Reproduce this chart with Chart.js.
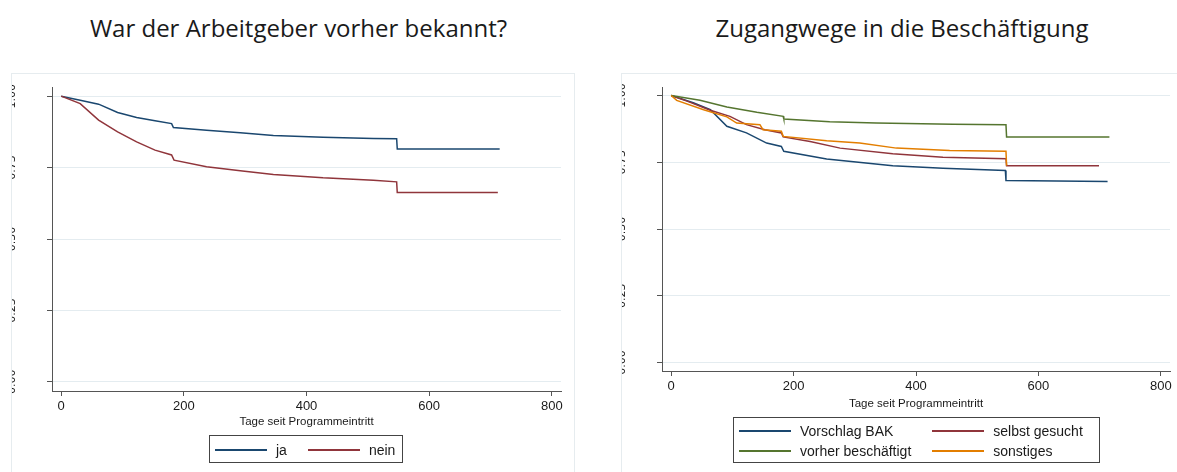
<!DOCTYPE html>
<html>
<head>
<meta charset="utf-8">
<script src="https://cdn.jsdelivr.net/npm/chart.js@4"></script>
<style>
  body { margin: 0; background: #fff; width: 1177px; height: 472px; overflow: hidden; position: relative; }
  .title { position: absolute; top: 11px; font: 24px "Open Sans", sans-serif; color: #1a1a1a; text-align: center; white-space: nowrap; }
  .frame { position: absolute; top: 73px; height: 420px; border: 1px solid #e6ecef; }
  .frame canvas { position: absolute; left: 0; top: 0; }
  .legend { position: absolute; border: 1px solid #444; box-sizing: border-box; display: grid; column-gap: 21px; align-items: center; padding: 3px 5px; font: 14px "Liberation Sans", Arial, sans-serif; color: #1a1a1a; }
  .legend .item { display: flex; align-items: center; height: 20px; white-space: nowrap; }
  .legend .swatch { width: 52px; height: 1.5px; margin-right: 9px; }
</style>
</head>
<body>
<div class="title" style="left:0;width:597px;">War der Arbeitgeber vorher bekannt?</div>
<div class="title" style="left:602px;width:600px;">Zugangwege in die Beschäftigung</div>

<div class="frame" style="left:11px;width:562px;"><canvas id="leftChart" width="561" height="398"></canvas></div>
<div class="frame" style="left:621px;width:600px;"><canvas id="rightChart" width="555" height="398"></canvas></div>

<div class="legend" id="leftLegend" style="left:209px;top:435px;width:194px;height:28px;padding-top:4px;"></div>
<div class="legend" id="rightLegend" style="left:733px;top:417px;width:367px;height:46px;"></div>

<script>
// axes
const xTicks = [0, 200, 400, 600, 800];
const yTicks = [0, 0.25, 0.5, 0.75, 1];
const yTickLabels = ['0.00', '0.25', '0.50', '0.75', '1.00'];
const xTitle = 'Tage seit Programmeintritt';

// left panel: War der Arbeitgeber vorher bekannt?
const bekanntNames = ['ja', 'nein'];
const bekanntColors = ['#1a476f', '#90353b'];
const jaDays = [0, 31, 61, 92, 123, 153, 180, 183, 237, 292, 346, 427, 509, 547, 548, 715];
const jaSurv = [1, 0.986, 0.972, 0.943, 0.925, 0.914, 0.904, 0.890, 0.881, 0.872, 0.862, 0.856, 0.852, 0.851, 0.815, 0.815];
const neinDays = [0, 31, 61, 92, 123, 153, 180, 184, 237, 292, 346, 427, 509, 547, 548, 712];
const neinSurv = [1, 0.974, 0.916, 0.875, 0.840, 0.811, 0.794, 0.776, 0.753, 0.739, 0.726, 0.714, 0.706, 0.700, 0.663, 0.663];

// right panel: Zugangwege in die Beschäftigung
const zugangNames = ['Vorschlag BAK', 'selbst gesucht', 'vorher beschäftigt', 'sonstiges'];
const zugangColors = ['#1a476f', '#90353b', '#55752f', '#e37e00'];
const bakDays = [0, 36, 64, 91, 123, 156, 180, 184, 254, 362, 444, 546, 547, 713];
const bakSurv = [1, 0.973, 0.947, 0.885, 0.860, 0.822, 0.809, 0.791, 0.762, 0.737, 0.728, 0.719, 0.682, 0.678];
const selbstDays = [0, 26, 64, 96, 123, 153, 180, 183, 227, 276, 362, 444, 547, 548, 699];
const selbstSurv = [1, 0.979, 0.945, 0.922, 0.891, 0.872, 0.860, 0.845, 0.828, 0.803, 0.782, 0.769, 0.763, 0.737, 0.737];
const vorherDays = [0, 47, 91, 140, 183, 184, 259, 335, 460, 547, 548, 716];
const vorherSurv = [1, 0.982, 0.957, 0.937, 0.922, 0.912, 0.902, 0.897, 0.892, 0.891, 0.845, 0.845];
const sonstDays = [0, 9, 53, 91, 107, 145, 150, 180, 183, 254, 308, 368, 455, 547, 548];
const sonstSurv = [1, 0.982, 0.947, 0.920, 0.897, 0.891, 0.872, 0.866, 0.847, 0.831, 0.822, 0.803, 0.794, 0.791, 0.737];

Chart.defaults.font.family = '"Liberation Sans", Arial, sans-serif';
Chart.defaults.color = '#1a1a1a';

// y labels are rotated and cut off by the frame, like in the original
const rotatedYLabels = {
    id: 'rotatedYLabels',
    afterDraw(chart) {
        const ctx = chart.ctx;
        const s = chart.scales.y;
        ctx.save();
        ctx.font = '11px "DejaVu Sans"';
        ctx.fillStyle = '#1a1a1a';
        ctx.textAlign = 'center';
        ctx.textBaseline = 'alphabetic';
        yTicks.forEach((v, i) => {
            ctx.save();
            ctx.translate(2.5, s.getPixelForValue(v));
            ctx.rotate(-Math.PI / 2);
            ctx.fillText(yTickLabels[i], 0, 0);
            ctx.restore();
        });
        ctx.restore();
    }
};

function makeDatasets(names, colors, days, surv) {
    return names.map((name, i) => ({
        label: name,
        data: days[i].map((d, j) => ({ x: d, y: surv[i][j] })),
        borderColor: colors[i],
        borderWidth: 1.5,
        pointRadius: 0,
        fill: false,
        tension: 0,
        order: names.length - i
    }));
}

function makeChart(id, datasets, pad, xHeight) {
    return new Chart(document.getElementById(id), {
        type: 'line',
        data: { datasets: datasets },
        options: {
            responsive: false,
            animation: false,
            devicePixelRatio: 1,
            layout: { padding: pad },
            plugins: { legend: { display: false }, tooltip: { enabled: false } },
            scales: {
                x: {
                    type: 'linear',
                    min: -15,
                    max: 815,
                    afterBuildTicks: s => { s.ticks = xTicks.map(v => ({ value: v })); },
                    afterFit: s => { s.height = xHeight; },
                    ticks: { font: { size: 13 }, padding: 3, maxRotation: 0, callback: v => String(v) },
                    grid: { drawOnChartArea: false, drawTicks: true, tickLength: 5, tickColor: '#555' },
                    border: { color: '#555', width: 1 },
                    title: { display: true, text: xTitle, font: { size: 11.5 }, padding: 0 }
                },
                y: {
                    type: 'linear',
                    min: -0.032,
                    max: 1.032,
                    afterBuildTicks: s => { s.ticks = yTicks.map(v => ({ value: v })); },
                    afterFit: s => { s.width = 40; },
                    ticks: { display: false },
                    grid: { color: '#e4ecf0', lineWidth: 1, drawTicks: true, tickLength: 5, tickColor: '#555' },
                    border: { color: '#555', width: 1 }
                }
            }
        },
        plugins: [rotatedYLabels]
    });
}

makeChart('leftChart',
    makeDatasets(bekanntNames, bekanntColors, [jaDays, neinDays], [jaSurv, neinSurv]),
    { left: 0, right: 12, top: 13, bottom: 43 }, 38);

makeChart('rightChart',
    makeDatasets(zugangNames, zugangColors, [bakDays, selbstDays, vorherDays, sonstDays], [bakSurv, selbstSurv, vorherSurv, sonstSurv]),
    { left: 0, right: 7, top: 13, bottom: 61 }, 40);

// legends in the Stata grid layout
function buildLegend(id, names, colors, cols) {
    const box = document.getElementById(id);
    box.style.gridTemplateColumns = 'repeat(' + cols + ', auto)';
    box.style.justifyContent = 'start';
    names.forEach((name, i) => {
        const item = document.createElement('div');
        item.className = 'item';
        const sw = document.createElement('span');
        sw.className = 'swatch';
        sw.style.background = colors[i];
        const tx = document.createElement('span');
        tx.textContent = name;
        item.appendChild(sw);
        item.appendChild(tx);
        box.appendChild(item);
    });
}
buildLegend('leftLegend', bekanntNames, bekanntColors, 2);
buildLegend('rightLegend', zugangNames, zugangColors, 2);
</script>
</body>
</html>
